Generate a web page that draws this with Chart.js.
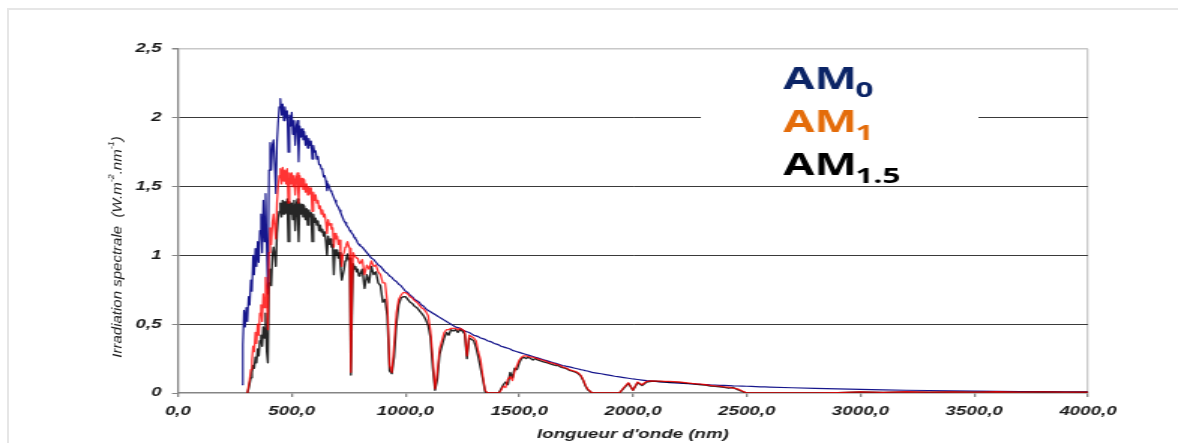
<!DOCTYPE html>
<html>
<head>
<meta charset="utf-8">
<title>Irradiation spectrale AM0 / AM1 / AM1.5</title>
<script src="https://cdn.jsdelivr.net/npm/chart.js"></script>
<style>
  html, body { margin: 0; padding: 0; background: #ffffff; overflow: hidden; }
  #frame {
    position: absolute; left: 7px; top: 8px;
    width: 1220px; height: 600px;
    border: 2px solid #e6e6e6;
  }
  #spectrum { position: absolute; left: 0; top: 0; }
</style>
</head>
<body>
<div id="frame"></div>
<!-- drawn at 785 px wide, shown 1178 px wide: the original picture is stretched sideways -->
<canvas id="spectrum" width="785" height="443" style="width:1178px;height:443px"></canvas>

<script>
// ── Data ─────────────────────────────────────────────────────
// Wavelengths in nm, irradiance in W.m-2.nm-1.
// Split in four bands so the rows stay easy to line up.

// 280 – 800 nm, every 5 nm
const wlVisible = [
  280, 285, 290, 295, 300, 305, 310, 315, 320, 325,
  330, 335, 340, 345, 350, 355, 360, 365, 370, 375,
  380, 385, 390, 395, 400, 405, 410, 415, 420, 425,
  430, 435, 440, 445, 450, 455, 460, 465, 470, 475,
  480, 485, 490, 495, 500, 505, 510, 515, 520, 525,
  530, 535, 540, 545, 550, 555, 560, 565, 570, 575,
  580, 585, 590, 595, 600, 605, 610, 615, 620, 625,
  630, 635, 640, 645, 650, 655, 660, 665, 670, 675,
  680, 685, 690, 695, 700, 705, 710, 715, 720, 725,
  730, 735, 740, 745, 750, 755, 760, 765, 770, 775,
  780, 785, 790, 795, 800
];
const am0Visible = [
  0.06, 0.35, 0.60, 0.48, 0.62, 0.52, 0.70, 0.64, 0.82, 0.74,
  1.00, 0.86, 1.05, 0.92, 1.10, 0.95, 1.18, 1.30, 1.02, 1.40,
  1.10, 1.45, 1.05, 0.72, 1.62, 1.82, 1.62, 1.80, 1.84, 1.66,
  1.45, 1.82, 1.96, 2.08, 2.14, 2.02, 2.10, 1.98, 2.08, 2.00,
  2.05, 1.75, 2.02, 1.94, 2.04, 1.88, 1.98, 1.80, 1.94, 1.98,
  1.68, 1.94, 1.86, 1.92, 1.84, 1.90, 1.80, 1.87, 1.78, 1.85,
  1.80, 1.83, 1.70, 1.80, 1.75, 1.76, 1.70, 1.72, 1.66, 1.66,
  1.63, 1.62, 1.57, 1.58, 1.54, 1.47, 1.52, 1.50, 1.47, 1.46,
  1.44, 1.42, 1.40, 1.38, 1.36, 1.35, 1.33, 1.31, 1.29, 1.27,
  1.25, 1.24, 1.22, 1.21, 1.20, 1.18, 1.17, 1.16, 1.15, 1.13,
  1.12, 1.11, 1.09, 1.08, 1.07
];
const am1Visible = [
  null, null, null, null, null, 0.00, 0.05, 0.10, 0.17, 0.24,
  0.34, 0.30, 0.44, 0.36, 0.50, 0.42, 0.58, 0.64, 0.52, 0.72,
  0.62, 0.84, 0.72, 0.46, 1.02, 1.20, 1.08, 1.24, 1.30, 1.20,
  1.12, 1.38, 1.50, 1.58, 1.63, 1.52, 1.64, 1.54, 1.62, 1.52,
  1.63, 1.38, 1.60, 1.52, 1.60, 1.50, 1.58, 1.44, 1.56, 1.60,
  1.38, 1.58, 1.50, 1.56, 1.48, 1.55, 1.46, 1.52, 1.44, 1.50,
  1.45, 1.49, 1.32, 1.46, 1.40, 1.44, 1.38, 1.40, 1.34, 1.36,
  1.30, 1.33, 1.28, 1.30, 1.24, 1.16, 1.26, 1.22, 1.23, 1.19,
  1.20, 1.06, 1.16, 1.12, 1.14, 1.08, 1.11, 1.02, 0.92, 1.00,
  1.02, 1.06, 1.08, 1.10, 1.07, 1.05, 0.15, 0.70, 1.02, 1.00,
  1.00, 0.98, 0.98, 0.95, 0.94
];
const am15Visible = [
  null, null, null, null, null, 0.00, 0.03, 0.07, 0.11, 0.15,
  0.20, 0.18, 0.26, 0.22, 0.32, 0.27, 0.38, 0.42, 0.34, 0.48,
  0.40, 0.58, 0.30, 0.22, 0.80, 0.90, 0.78, 1.00, 1.06, 1.00,
  0.92, 1.16, 1.26, 1.32, 1.38, 1.28, 1.40, 1.30, 1.39, 1.31,
  1.41, 1.10, 1.39, 1.30, 1.38, 1.26, 1.40, 1.18, 1.37, 1.41,
  1.10, 1.38, 1.30, 1.37, 1.28, 1.36, 1.26, 1.34, 1.22, 1.33,
  1.28, 1.31, 1.10, 1.30, 1.24, 1.27, 1.22, 1.25, 1.18, 1.22,
  1.17, 1.19, 1.14, 1.17, 1.10, 1.00, 1.14, 1.08, 1.12, 1.06,
  1.08, 0.86, 1.04, 1.00, 1.04, 0.98, 1.02, 0.90, 0.82, 0.86,
  0.90, 0.96, 0.98, 1.01, 0.97, 0.98, 0.13, 0.60, 0.94, 0.90,
  0.92, 0.88, 0.90, 0.85, 0.86
];

// 810 – 1800 nm, every 10 nm
const wlNearIR = [
  810, 820, 830, 840, 850, 860, 870, 880, 890, 900,
  910, 920, 930, 940, 950, 960, 970, 980, 990, 1000,
  1010, 1020, 1030, 1040, 1050, 1060, 1070, 1080, 1090, 1100,
  1110, 1120, 1130, 1140, 1150, 1160, 1170, 1180, 1190, 1200,
  1210, 1220, 1230, 1240, 1250, 1260, 1270, 1280, 1290, 1300,
  1310, 1320, 1330, 1340, 1350, 1360, 1370, 1380, 1390, 1400,
  1410, 1420, 1430, 1440, 1450, 1460, 1470, 1480, 1490, 1500,
  1510, 1520, 1530, 1540, 1550, 1560, 1570, 1580, 1590, 1600,
  1610, 1620, 1630, 1640, 1650, 1660, 1670, 1680, 1690, 1700,
  1710, 1720, 1730, 1740, 1750, 1760, 1770, 1780, 1790, 1800
];
const am0NearIR = [
  1.06, 1.04, 1.02, 1.00, 0.98, 0.97, 0.95, 0.93, 0.92, 0.90,
  0.88, 0.87, 0.85, 0.84, 0.82, 0.81, 0.79, 0.78, 0.76, 0.74,
  0.73, 0.71, 0.70, 0.68, 0.67, 0.66, 0.64, 0.63, 0.61, 0.60,
  0.59, 0.58, 0.57, 0.56, 0.55, 0.54, 0.53, 0.52, 0.51, 0.50,
  0.49, 0.48, 0.475, 0.47, 0.46, 0.45, 0.445, 0.44, 0.43, 0.42,
  0.415, 0.41, 0.40, 0.395, 0.39, 0.38, 0.375, 0.37, 0.36, 0.355,
  0.35, 0.34, 0.335, 0.33, 0.325, 0.32, 0.31, 0.305, 0.30, 0.295,
  0.29, 0.285, 0.28, 0.275, 0.27, 0.265, 0.26, 0.255, 0.25, 0.245,
  0.24, 0.235, 0.23, 0.225, 0.22, 0.215, 0.21, 0.205, 0.20, 0.197,
  0.193, 0.19, 0.186, 0.182, 0.178, 0.174, 0.17, 0.167, 0.163, 0.16
];
const am1NearIR = [
  0.97, 0.86, 0.93, 0.90, 0.96, 0.92, 0.93, 0.88, 0.86, 0.80,
  0.80, 0.66, 0.20, 0.15, 0.35, 0.58, 0.68, 0.71, 0.73, 0.73,
  0.72, 0.70, 0.69, 0.67, 0.66, 0.64, 0.62, 0.61, 0.59, 0.56,
  0.45, 0.25, 0.03, 0.15, 0.32, 0.38, 0.44, 0.46, 0.46, 0.47,
  0.47, 0.47, 0.46, 0.47, 0.46, 0.45, 0.27, 0.42, 0.41, 0.40,
  0.38, 0.30, 0.24, 0.12, 0.02, 0.00, 0.00, 0.00, 0.00, 0.00,
  0.00, 0.02, 0.05, 0.04, 0.10, 0.12, 0.09, 0.16, 0.20, 0.24,
  0.26, 0.27, 0.27, 0.265, 0.26, 0.26, 0.255, 0.25, 0.245, 0.24,
  0.235, 0.23, 0.22, 0.22, 0.215, 0.21, 0.205, 0.20, 0.19, 0.185,
  0.18, 0.17, 0.165, 0.16, 0.155, 0.145, 0.13, 0.10, 0.06, 0.03
];
const am15NearIR = [
  0.90, 0.76, 0.86, 0.80, 0.92, 0.86, 0.88, 0.80, 0.78, 0.66,
  0.68, 0.56, 0.16, 0.14, 0.26, 0.50, 0.64, 0.69, 0.70, 0.70,
  0.68, 0.66, 0.65, 0.63, 0.62, 0.60, 0.58, 0.56, 0.53, 0.49,
  0.40, 0.18, 0.02, 0.10, 0.28, 0.34, 0.40, 0.44, 0.42, 0.46,
  0.45, 0.46, 0.44, 0.46, 0.45, 0.43, 0.25, 0.40, 0.39, 0.38,
  0.33, 0.26, 0.18, 0.10, 0.01, 0.00, 0.00, 0.00, 0.00, 0.00,
  0.00, 0.03, 0.06, 0.08, 0.06, 0.15, 0.11, 0.18, 0.17, 0.22,
  0.25, 0.26, 0.25, 0.26, 0.25, 0.24, 0.25, 0.24, 0.235, 0.23,
  0.225, 0.22, 0.215, 0.21, 0.205, 0.20, 0.20, 0.19, 0.185, 0.18,
  0.175, 0.165, 0.16, 0.155, 0.15, 0.14, 0.125, 0.095, 0.055, 0.025
];

// 1820 – 2600 nm, every 20 nm
const wlMidIR = [
  1820, 1840, 1860, 1880, 1900, 1920, 1940, 1960, 1980, 2000,
  2020, 2040, 2060, 2080, 2100, 2120, 2140, 2160, 2180, 2200,
  2220, 2240, 2260, 2280, 2300, 2320, 2340, 2360, 2380, 2400,
  2420, 2440, 2460, 2480, 2500, 2520, 2540, 2560, 2580, 2600
];
const am0MidIR = [
  0.15, 0.145, 0.14, 0.134, 0.128, 0.122, 0.117, 0.112, 0.107, 0.102,
  0.098, 0.094, 0.09, 0.087, 0.084, 0.081, 0.078, 0.076, 0.074, 0.072,
  0.07, 0.068, 0.066, 0.064, 0.062, 0.061, 0.059, 0.058, 0.056, 0.055,
  0.054, 0.052, 0.051, 0.05, 0.049, 0.048, 0.047, 0.045, 0.044, 0.043
];
const am1MidIR = [
  0, 0, 0, 0, 0, 0, 0, 0.04, 0.075, 0.02,
  0.08, 0.06, 0.085, 0.088, 0.087, 0.086, 0.085, 0.084, 0.082, 0.08,
  0.077, 0.074, 0.07, 0.067, 0.064, 0.06, 0.056, 0.052, 0.05, 0.045,
  0.042, 0.036, 0.03, 0.015, 0, 0, 0, 0, 0, 0
];
const am15MidIR = [
  0, 0, 0, 0, 0, 0, 0, 0.035, 0.07, 0.02,
  0.075, 0.055, 0.08, 0.085, 0.085, 0.084, 0.082, 0.08, 0.079, 0.077,
  0.074, 0.07, 0.068, 0.063, 0.06, 0.057, 0.05, 0.048, 0.045, 0.042,
  0.035, 0.04, 0.025, 0.012, 0, 0, 0, 0, 0, 0
];

// 2700 – 4000 nm, every 100 nm
const wlFarIR   = [2700, 2800, 2900, 3000, 3100, 3200, 3300, 3400, 3500, 3600, 3700, 3800, 3900, 4000];
const am0FarIR  = [0.038, 0.034, 0.03, 0.026, 0.023, 0.02, 0.018, 0.016, 0.014, 0.012, 0.011, 0.01, 0.009, 0.008];
const am1FarIR  = [0, 0, 0.003, 0.008, 0.005, 0.009, 0.006, 0.008, 0.007, 0.009, 0.007, 0.008, 0.007, 0.006];
const am15FarIR = [0, 0, 0.002, 0.007, 0.004, 0.008, 0.005, 0.007, 0.006, 0.008, 0.006, 0.007, 0.006, 0.005];

// Axis tick labels (French decimal comma)
const xTickLabels = ['0,0', '500,0', '1000,0', '1500,0', '2000,0', '2500,0', '3000,0', '3500,0', '4000,0'];
const yTickLabels = ['0', '0,5', '1', '1,5', '2', '2,5'];

// Legend entries: main text, subscript
const legendItems = [
  ['AM', '0'],
  ['AM', '1'],
  ['AM', '1.5']
];


// ── Join the bands into one series per air mass ──────────────
const wavelengths = [...wlVisible, ...wlNearIR, ...wlMidIR, ...wlFarIR];
const am0  = [...am0Visible,  ...am0NearIR,  ...am0MidIR,  ...am0FarIR];
const am1  = [...am1Visible,  ...am1NearIR,  ...am1MidIR,  ...am1FarIR];
const am15 = [...am15Visible, ...am15NearIR, ...am15MidIR, ...am15FarIR];

const toPoints = (values) => wavelengths.map((x, i) => ({ x: x, y: values[i] }));


// ── Look ─────────────────────────────────────────────────────
const TICK_FONT  = { family: '"Liberation Sans", Arial, sans-serif', size: 12.5, style: 'italic', weight: 'bold' };
const TEXT_COLOR = '#1a1a1a';
const AXIS_GREY  = '#858585';
const FRAME_GREY = '#c8c8c8';
const GRID_DARK  = '#3a3a3a';


// ── Y axis title, drawn narrow like in the picture ───────────
const yTitlePlugin = {
  id: 'yTitle',
  afterDraw(chart) {
    const ctx = chart.ctx;
    const parts = [
      ['Irradiation spectrale  (W.m', false],
      ['-2', true],
      ['.nm', false],
      ['-1', true],
      [')', false]
    ];
    const big   = 'italic 15px "Liberation Sans", Arial, sans-serif';
    const small = 'italic 9px "Liberation Sans", Arial, sans-serif';

    ctx.save();
    ctx.translate(78.5, 247);
    ctx.scale(0.62, 1);
    ctx.rotate(-Math.PI / 2);
    ctx.fillStyle = TEXT_COLOR;
    ctx.textBaseline = 'middle';
    ctx.textAlign = 'left';

    let total = 0;
    parts.forEach(([t, sup]) => { ctx.font = sup ? small : big; total += ctx.measureText(t).width; });
    let x = -total / 2;
    parts.forEach(([t, sup]) => {
      ctx.font = sup ? small : big;
      ctx.fillText(t, x, sup ? -6 : 0);
      x += ctx.measureText(t).width;
    });
    ctx.restore();
  }
};


// ── Legend box with subscripted air-mass names ───────────────
const airMassLegend = {
  id: 'airMassLegend',
  afterDraw(chart) {
    const ctx = chart.ctx;
    const colors    = ['#0b2466', '#e46c0a', '#000000'];
    const baselines = [89, 132, 175];
    const left = 522;

    ctx.save();
    // white box hides the 2.0 grid line behind the legend
    ctx.fillStyle = '#ffffff';
    ctx.fillRect(467, 56, 185, 124);

    ctx.textBaseline = 'alphabetic';
    ctx.textAlign = 'left';
    legendItems.forEach(([main, sub], i) => {
      ctx.fillStyle = colors[i];
      ctx.font = 'bold 30px "Open Sans", "Noto Sans", sans-serif';
      ctx.fillText(main, left, baselines[i]);
      const w = ctx.measureText(main).width;
      ctx.font = 'bold 21px "Open Sans", "Noto Sans", sans-serif';
      ctx.fillText(sub, left + w - 1, baselines[i] + 8);
    });
    ctx.restore();
  }
};


// ── Chart ────────────────────────────────────────────────────
new Chart(document.getElementById('spectrum'), {
  type: 'line',
  data: {
    datasets: [
      {
        label: 'AM1',
        data: toPoints(am1),
        borderColor: 'rgba(255,0,0,0.8)',
        borderWidth: 1.3,
        order: 0
      },
      {
        label: 'AM1.5',
        data: toPoints(am15),
        borderColor: 'rgba(0,0,0,0.85)',
        borderWidth: 1.4,
        order: 1
      },
      {
        label: 'AM0',
        data: toPoints(am0),
        borderColor: '#16168c',
        borderWidth: 1.2,
        order: 2
      }
    ]
  },
  options: {
    responsive: false,
    animation: false,
    devicePixelRatio: 1,
    layout: { padding: { top: 49, right: 60, bottom: 0, left: 0 } },
    elements: {
      point: { radius: 0 },
      line:  { tension: 0, borderJoinStyle: 'round', fill: false }
    },
    plugins: {
      legend:  { display: false },
      tooltip: { enabled: false }
    },
    scales: {
      x: {
        type: 'linear',
        min: 0,
        max: 4000,
        afterFit: (scale) => { scale.height = 50; },
        ticks: {
          stepSize: 500,
          padding: 7,
          maxRotation: 0,
          autoSkip: false,
          color: TEXT_COLOR,
          font: TICK_FONT,
          callback: (value, index) => xTickLabels[index]
        },
        grid: {
          color: (c) => (c.tick && c.tick.value === 4000) ? FRAME_GREY : 'rgba(0,0,0,0)',
          lineWidth: 1.3,
          tickColor: AXIS_GREY,
          tickLength: 4
        },
        border: { color: AXIS_GREY, width: 1.5 },
        title: {
          display: true,
          text: "longueur d'onde (nm)",
          color: TEXT_COLOR,
          font: TICK_FONT,
          padding: { top: 0, bottom: 1 }
        }
      },
      y: {
        min: 0,
        max: 2.5,
        afterFit: (scale) => { scale.width = 118.6; },
        ticks: {
          stepSize: 0.5,
          padding: 7,
          color: TEXT_COLOR,
          font: TICK_FONT,
          callback: (value, index) => yTickLabels[index]
        },
        grid: {
          color: (c) => {
            const v = c.tick ? c.tick.value : null;
            if (v === 0) return 'rgba(0,0,0,0)';
            if (v === 2.5) return FRAME_GREY;
            return GRID_DARK;
          },
          lineWidth: (c) => (c.tick && c.tick.value === 2.5) ? 1.5 : 1,
          tickColor: AXIS_GREY,
          tickLength: 4
        },
        border: { color: AXIS_GREY, width: 1.3 }
      }
    }
  },
  plugins: [yTitlePlugin, airMassLegend]
});
</script>
</body>
</html>
